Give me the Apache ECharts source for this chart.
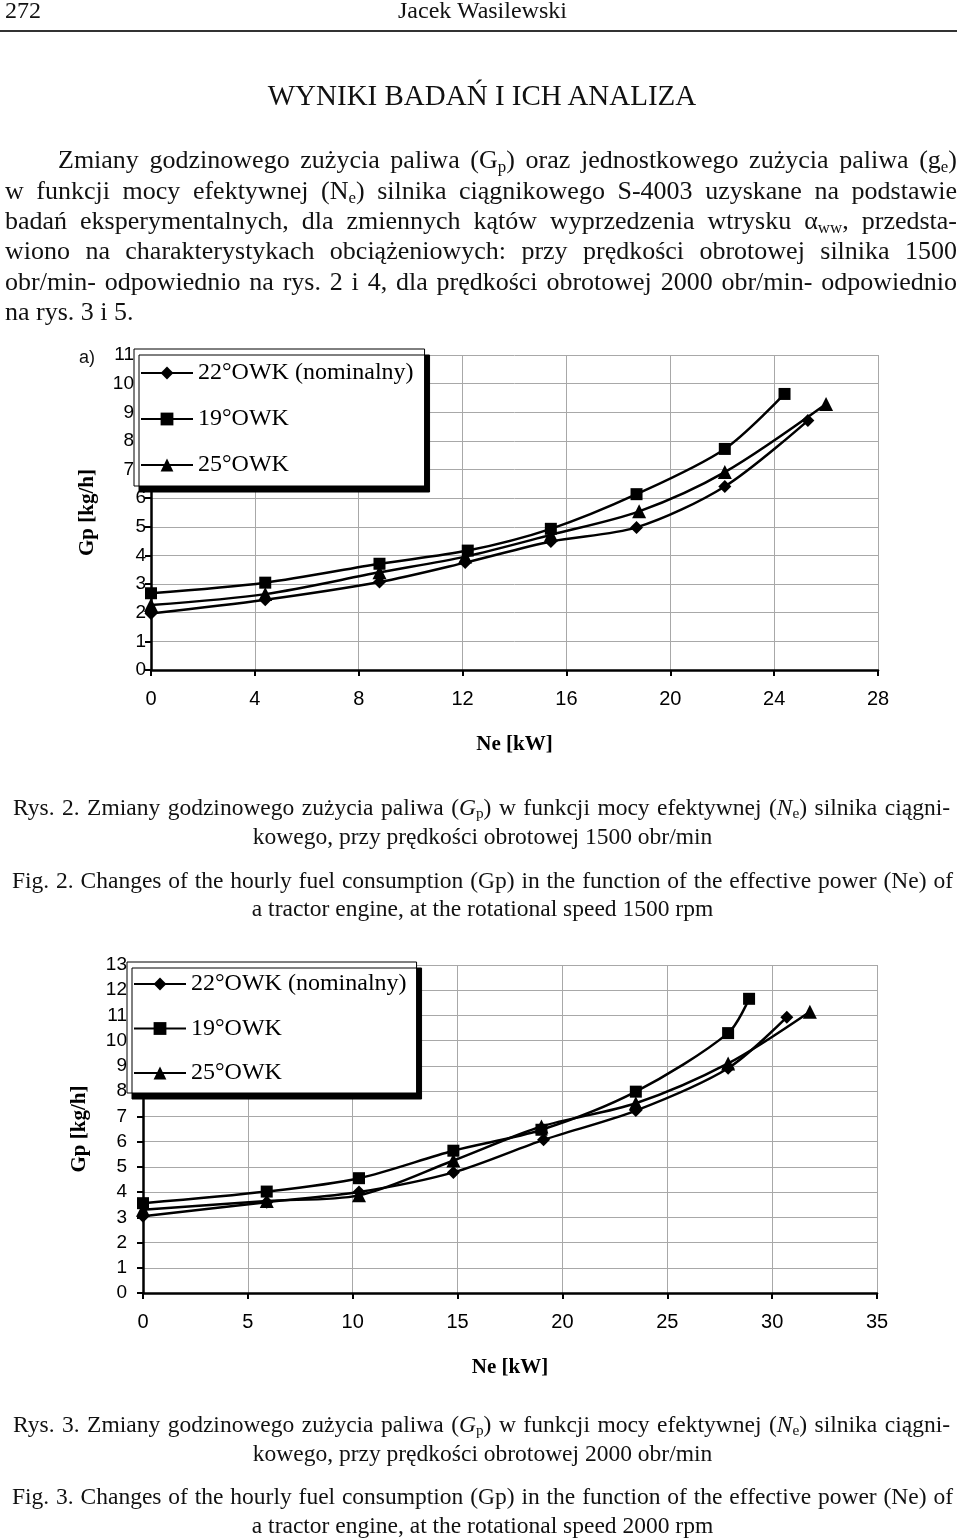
<!DOCTYPE html>
<html><head><meta charset="utf-8">
<script src="https://cdn.jsdelivr.net/npm/echarts@6/dist/echarts.min.js"></script>
<style>
html,body{margin:0;padding:0;background:#fff;}
#page{position:relative;width:960px;height:1540px;overflow:hidden;font-family:"Liberation Serif","Times New Roman",serif;color:#111;}
.t{position:absolute;white-space:nowrap;}
.j{text-align:justify;text-align-last:justify;}
.c{text-align:center;}
sub{font-size:65%;vertical-align:-0.22em;line-height:0;}
#chart{position:absolute;left:0;top:0;width:960px;height:1540px;}
</style></head><body>
<div id="page">
<div id="chart"></div>
<div class="t" style="left:5px;top:-2.5px;font-size:24px;line-height:24px">272</div>
<div class="t c" style="left:0;width:965px;top:-2.5px;font-size:24px;line-height:24px">Jacek Wasilewski</div>
<div style="position:absolute;left:0;top:30px;width:957px;height:2px;background:#333"></div>
<div class="t c" style="left:0;width:964px;top:81px;font-size:29px;line-height:29px">WYNIKI BADAŃ I ICH ANALIZA</div>

<div class="t j" style="left:58px;width:899px;top:145px;font-size:26px;line-height:30px">Zmiany godzinowego zużycia paliwa (G<sub>p</sub>) oraz jednostkowego zużycia paliwa (g<sub>e</sub>)</div>
<div class="t j" style="left:5px;width:952px;top:175.5px;font-size:26px;line-height:30px">w funkcji mocy efektywnej (N<sub>e</sub>) silnika ciągnikowego S-4003 uzyskane na podstawie</div>
<div class="t j" style="left:5px;width:952px;top:206px;font-size:26px;line-height:30px">badań eksperymentalnych, dla zmiennych kątów wyprzedzenia wtrysku α<sub>ww</sub>, przedsta-</div>
<div class="t j" style="left:5px;width:952px;top:236px;font-size:26px;line-height:30px">wiono na charakterystykach obciążeniowych: przy prędkości obrotowej silnika 1500</div>
<div class="t j" style="left:5px;width:952px;top:266.5px;font-size:26px;line-height:30px">obr/min- odpowiednio na rys. 2 i 4, dla prędkości obrotowej 2000 obr/min- odpowiednio</div>
<div class="t" style="left:5px;top:297px;font-size:26px;line-height:30px">na rys. 3 i 5.</div>

<div class="t" style="left:79px;top:348px;font-family:'Liberation Sans',Arial,sans-serif;font-size:18px;line-height:18px">a)</div>

<div class="t j" style="left:13px;width:937px;top:792.6px;font-size:23.5px;line-height:29px">Rys. 2. Zmiany godzinowego zużycia paliwa (<i>G</i><sub>p</sub>) w funkcji mocy efektywnej (<i>N</i><sub>e</sub>) silnika ciągni-</div>
<div class="t c" style="left:0;width:965px;top:822px;font-size:23.5px;line-height:29px">kowego, przy prędkości obrotowej 1500 obr/min</div>
<div class="t j" style="left:12px;width:941px;top:866px;font-size:23.5px;line-height:29px">Fig. 2. Changes of the hourly fuel consumption (Gp) in the function of the effective power (Ne) of</div>
<div class="t c" style="left:0;width:965px;top:894px;font-size:23.5px;line-height:29px">a tractor engine, at the rotational speed 1500 rpm</div>

<div class="t j" style="left:13px;width:937px;top:1409.5px;font-size:23.5px;line-height:29px">Rys. 3. Zmiany godzinowego zużycia paliwa (<i>G</i><sub>p</sub>) w funkcji mocy efektywnej (<i>N</i><sub>e</sub>) silnika ciągni-</div>
<div class="t c" style="left:0;width:965px;top:1438.5px;font-size:23.5px;line-height:29px">kowego, przy prędkości obrotowej 2000 obr/min</div>
<div class="t j" style="left:12px;width:941px;top:1482px;font-size:23.5px;line-height:29px">Fig. 3. Changes of the hourly fuel consumption (Gp) in the function of the effective power (Ne) of</div>
<div class="t c" style="left:0;width:965px;top:1510.5px;font-size:23.5px;line-height:29px">a tractor engine, at the rotational speed 2000 rpm</div>
</div>
<script>
// ---- Data ----
const seriesNames = ['22°OWK (nominalny)', '19°OWK', '25°OWK'];

// Rys. 2 — 1500 obr/min
const ne22_1500 = [0, 4.4, 8.8, 12.1, 15.4, 18.7, 22.1, 25.3];
const gp22_1500 = [1.97, 2.45, 3.07, 3.75, 4.49, 4.98, 6.41, 8.71];
const ne19_1500 = [0, 4.4, 8.8, 12.2, 15.4, 18.7, 22.1, 24.4];
const gp19_1500 = [2.68, 3.05, 3.71, 4.17, 4.93, 6.14, 7.72, 9.64];
const ne25_1500 = [0, 4.4, 8.8, 12.1, 15.4, 18.8, 22.1, 26.0];
const gp25_1500 = [2.27, 2.65, 3.41, 3.96, 4.72, 5.54, 6.91, 9.29];

// Rys. 3 — 2000 obr/min
const ne22_2000 = [0, 5.9, 10.3, 14.8, 19.1, 23.5, 27.9, 30.7];
const gp22_2000 = [3.04, 3.6, 4.0, 4.78, 6.07, 7.23, 8.91, 10.93];
const ne19_2000 = [0, 5.9, 10.3, 14.8, 19.0, 23.5, 27.9, 28.9];
const gp19_2000 = [3.56, 4.02, 4.55, 5.64, 6.47, 7.98, 10.3, 11.66];
const ne25_2000 = [0, 5.9, 10.3, 14.8, 19.0, 23.5, 27.9, 31.8];
const gp25_2000 = [3.3, 3.65, 3.87, 5.25, 6.6, 7.52, 9.1, 11.15];

// Axis ranges / ticks
const xMax1 = 28, xStep1 = 4, yMax1 = 11, yStep1 = 1;
const xMax2 = 35, xStep2 = 5, yMax2 = 13, yStep2 = 1;
const xName = 'Ne [kW]', yName = 'Gp [kg/h]';
// In Rys. 2 the y labels beside the legend box sit further left
const yShiftFrom1 = 7;

// ---- Chart ----
const SERIF = 'Liberation Serif';
const SANS = 'Liberation Sans';
const zip = (xs, ys) => xs.map((x, i) => [x, ys[i]]);

function xAxis(gi, max, step) {
  return {
    type: 'value', gridIndex: gi, min: 0, max: max, interval: step,
    name: xName, nameLocation: 'middle', nameGap: 64,
    nameTextStyle: {fontFamily: SERIF, fontWeight: 'bold', fontSize: 21, color: '#000'},
    axisLine: {show: true, onZero: false, lineStyle: {color: '#000', width: 2.5}},
    axisTick: {show: true, inside: false, length: 6, lineStyle: {color: '#000', width: 2}},
    axisLabel: {fontFamily: SANS, fontSize: 20, color: '#000', margin: 19},
    splitLine: {show: true, lineStyle: {color: '#a8a8a8', width: 1}}
  };
}
function yAxis(gi, max, step, margin, shiftFrom) {
  const lab = {fontFamily: SANS, fontSize: 19, color: '#000'};
  const axisLabel = Object.assign({margin: margin}, lab);
  if (shiftFrom != null) {
    axisLabel.formatter = v => (v >= shiftFrom ? '{u|' + v + '}' : '{d|' + v + '}');
    axisLabel.rich = {
      u: Object.assign({padding: [0, 12, 0, 0]}, lab),
      d: Object.assign({}, lab)
    };
  }
  return {
    type: 'value', gridIndex: gi, min: 0, max: max, interval: step,
    name: yName, nameLocation: 'middle', nameGap: 53, nameRotate: 90,
    nameTextStyle: {fontFamily: SERIF, fontWeight: 'bold', fontSize: 21, color: '#000'},
    axisLine: {show: true, onZero: false, lineStyle: {color: '#000', width: 2.5}},
    axisTick: {show: true, inside: false, length: 6, lineStyle: {color: '#000', width: 2}},
    axisLabel: axisLabel,
    splitLine: {show: true, lineStyle: {color: '#a8a8a8', width: 1}}
  };
}
const symbols = ['diamond', 'rect', 'triangle'];
const symbolSizes = [13, 12, 14];
function lineSeries(k, gi, data) {
  return {
    type: 'line', name: seriesNames[k], xAxisIndex: gi, yAxisIndex: gi,
    data: data, smooth: 0.3, symbol: symbols[k], symbolSize: symbolSizes[k],
    showSymbol: true, showAllSymbol: true,
    lineStyle: {color: '#000', width: 2.5},
    itemStyle: {color: '#000'},
    emphasis: {disabled: true}
  };
}
function legend(left, top, gap, pad) {
  return {
    left: left, top: top, orient: 'vertical', selectedMode: false,
    data: seriesNames, itemWidth: 52, itemHeight: 16, itemGap: gap,
    padding: pad, backgroundColor: '#fff', borderColor: '#000', borderWidth: 1,
    shadowColor: '#000', shadowBlur: 0, shadowOffsetX: 5, shadowOffsetY: 6,
    textStyle: {fontFamily: SERIF, fontSize: 24, lineHeight: 22, color: '#000', padding: [10, 0, 0, 0]}
  };
}

const chart = echarts.init(document.getElementById('chart'), null, {renderer: 'canvas'});
chart.setOption({
  animation: false,
  grid: [
    {left: 151, top: 355, width: 727, height: 315},
    {left: 143, top: 965, width: 734, height: 328}
  ],
  xAxis: [xAxis(0, xMax1, xStep1), xAxis(1, xMax2, xStep2)],
  yAxis: [yAxis(0, yMax1, yStep1, 5, yShiftFrom1), yAxis(1, yMax2, yStep2, 16, null)],
  legend: [legend(134, 349, 14, [8, 11, 5, 6]), legend(127, 962, 12.5, [6, 10, 4, 6])],
  series: [
    lineSeries(0, 0, zip(ne22_1500, gp22_1500)),
    lineSeries(1, 0, zip(ne19_1500, gp19_1500)),
    lineSeries(2, 0, zip(ne25_1500, gp25_1500)),
    lineSeries(0, 1, zip(ne22_2000, gp22_2000)),
    lineSeries(1, 1, zip(ne19_2000, gp19_2000)),
    lineSeries(2, 1, zip(ne25_2000, gp25_2000))
  ]
});
</script>
</body></html>
